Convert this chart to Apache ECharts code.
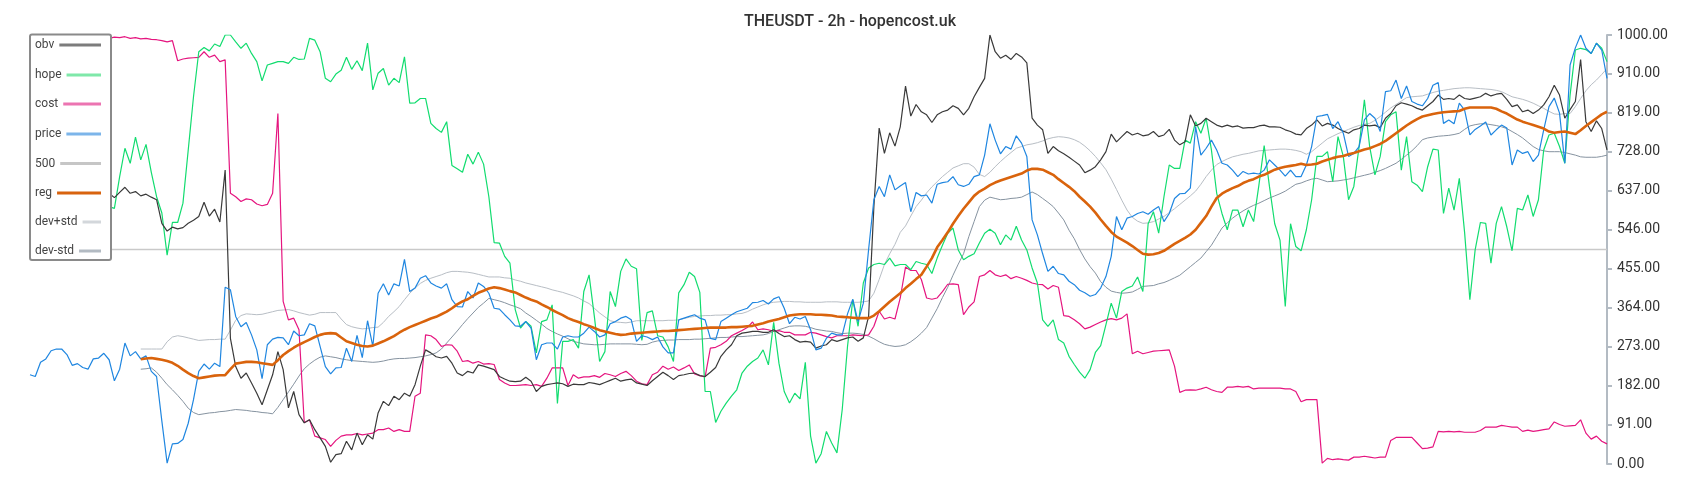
<!DOCTYPE html>
<html><head><meta charset="utf-8">
<script src="https://cdn.jsdelivr.net/npm/echarts@6/dist/echarts.min.js"></script>
<style>html,body{margin:0;padding:0;background:#fff}#c{width:1700px;height:500px}</style>
</head><body><div id="c"></div>
<script>
const chartTitle = 'THEUSDT - 2h - hopencost.uk';
const seriesNames = ['obv', 'hope', 'cost', 'price', '500', 'reg', 'dev+std', 'dev-std'];
const pointCount = 300;
const bandStart = 21;
const levelValue = 500;
const yTicks = { min: 0, max: 1000, step: 91 };

const obv = [
630,633,628,636,640,632,629,635,638,630,
627,634,631,628,633,631,621,633,645,631,
635,625,629,622,616,561,543,552,548,551,
561,568,577,610,578,594,564,685,293,227,
200,212,189,165,138,173,208,262,220,131,
169,115,96,103,80,61,41,4,22,24,
53,33,72,45,68,58,119,146,136,158,
150,165,158,185,228,266,259,250,247,251,
235,212,206,216,212,231,228,224,220,204,
198,193,192,193,202,193,169,181,185,187,
189,187,181,186,185,185,190,188,185,190,
195,200,193,196,198,189,186,183,194,204,
214,206,197,206,208,211,212,206,204,214,
225,251,266,278,299,305,307,309,309,307,
307,313,304,297,299,290,284,286,284,270,
275,278,290,286,290,294,296,286,294,344,
600,783,724,772,741,786,881,811,838,821,
814,796,814,821,825,835,829,814,829,856,
878,899,1000,961,946,953,943,957,949,935,
806,790,779,724,740,730,723,715,706,697,
679,685,693,709,728,769,751,763,775,767,
771,765,767,775,763,767,780,755,744,751,
814,788,794,806,798,790,786,790,786,788,
783,784,784,788,790,786,786,785,779,775,
769,767,782,790,802,788,794,790,782,776,
771,779,782,790,788,790,784,806,817,835,
842,839,835,829,825,835,845,860,850,852,
850,860,852,850,853,856,864,858,862,864,
850,833,837,821,825,817,825,837,856,883,
860,806,826,845,943,798,775,800,782,732
];

const hope = [
610,615,605,620,600,612,618,608,615,622,
610,605,615,625,630,600,596,670,736,701,
762,709,745,680,623,585,487,563,563,608,
732,856,961,971,963,979,973,1000,1000,984,
969,981,957,938,893,930,934,938,938,934,
948,943,944,992,988,961,899,891,909,918,
948,920,940,917,981,872,911,922,883,899,
889,949,841,842,852,852,794,782,773,798,
696,688,680,722,699,727,699,623,516,515,
484,468,360,317,332,321,259,332,336,371,
141,286,286,290,270,402,441,344,239,262,
402,367,449,478,461,455,288,353,357,299,
296,273,239,399,418,447,437,400,169,169,
97,123,142,158,173,212,228,239,247,266,
231,330,235,169,142,165,152,237,65,2,
24,76,49,26,127,274,383,321,422,457,
465,468,465,480,462,465,465,453,472,468,
465,444,480,510,538,550,499,476,484,490,
515,538,547,538,511,534,522,554,522,499,
457,422,336,321,336,290,282,251,232,214,
200,220,260,276,325,375,340,402,410,415,
436,402,560,588,538,623,697,689,689,755,
748,798,771,806,732,631,584,546,592,592,
553,592,565,650,742,647,560,522,367,560,
507,497,546,616,717,717,728,658,763,717,
616,647,740,849,740,674,717,798,814,821,
685,763,658,650,635,693,734,732,584,643,
592,666,540,383,499,563,561,468,561,600,
553,497,596,592,627,577,616,732,767,771,
740,701,860,965,969,966,957,981,969,938
];

const cost = [
998,997,996,998,995,996,994,996,995,993,
994,995,993,994,992,992,995,994,996,992,
994,991,992,990,989,987,984,987,940,944,
946,947,948,961,948,953,938,942,631,623,
612,618,616,606,602,605,631,817,379,336,
340,313,96,103,65,61,57,41,55,65,
68,68,71,68,70,72,80,80,84,76,
80,76,76,158,165,301,299,290,274,278,
277,263,239,241,235,239,233,234,232,197,
189,183,183,184,185,183,185,181,200,224,
224,224,183,208,200,203,203,206,202,211,
208,204,211,216,206,193,187,185,208,214,
228,221,226,218,224,231,210,206,203,270,
272,278,286,299,305,311,318,331,313,315,
313,309,311,307,307,301,301,301,307,305,
301,297,294,299,299,299,301,300,299,301,
321,356,338,342,338,387,459,451,451,430,
387,384,387,402,419,420,418,348,366,378,
437,441,451,441,437,441,432,437,433,428,
422,419,418,408,416,412,346,344,336,327,
315,319,325,331,336,339,336,340,350,257,
263,257,260,263,264,265,266,228,167,172,
173,172,175,179,173,169,167,179,179,181,
179,181,175,177,177,177,177,177,175,175,
169,145,150,150,150,2,13,10,12,10,
9,16,16,18,16,14,16,16,55,62,
62,62,62,49,36,37,40,76,75,76,
75,76,74,74,74,78,86,86,86,90,
88,86,86,76,79,76,78,80,82,98,
92,88,89,90,103,72,58,65,53,47
];

const price = [
208,204,237,245,264,268,268,255,230,234,
225,221,245,247,258,243,194,221,282,252,
262,245,252,216,204,100,2,47,48,57,
95,150,216,233,221,235,227,412,406,344,
320,330,301,266,199,278,291,295,294,278,
310,299,301,327,322,274,227,210,224,225,
270,239,300,248,334,274,398,420,394,420,
415,477,402,410,433,439,422,415,410,420,
383,367,366,402,387,422,414,398,363,361,
348,336,322,321,332,317,243,278,282,282,
268,296,299,296,296,305,319,309,296,301,
327,332,340,344,336,286,299,296,290,296,
273,259,259,336,340,344,348,340,336,293,
290,332,340,348,355,359,363,376,377,381,
373,385,390,363,327,342,338,344,313,266,
270,293,305,301,301,350,384,332,375,500,
616,647,623,674,639,648,656,588,633,625,
627,608,652,656,658,670,651,647,652,670,
674,720,793,755,723,740,734,765,748,717,
569,534,490,449,461,444,441,426,418,405,
399,391,395,410,437,484,577,546,573,577,
584,588,582,592,600,565,584,619,630,631,
643,786,720,736,755,732,701,697,685,670,
682,676,678,676,685,709,697,685,671,685,
670,670,697,740,810,812,815,782,798,771,
717,724,740,802,817,806,775,868,870,895,
852,881,845,839,835,852,883,889,794,802,
793,841,825,767,780,788,797,767,779,790,
783,697,732,724,728,705,720,779,833,853,
818,701,930,970,1000,969,957,981,965,899
];

// reg / bands start at index bandStart (21)
const reg = [
244,246,247,245,243,240,236,229,220,
212,205,200,202,204,206,207,207,221,234,
236,238,238,237,235,233,231,242,254,263,
271,278,284,290,296,301,304,305,304,295,
286,282,278,275,274,276,281,286,292,298,
306,313,319,324,329,334,339,343,349,355,
363,372,379,384,392,399,404,409,412,410,
407,403,400,394,388,383,379,372,366,359,
353,347,340,335,331,326,322,317,312,309,
306,303,301,302,304,305,306,307,308,309,
310,310,311,312,313,314,315,316,317,318,
318,318,318,319,319,320,321,322,325,328,
332,335,338,342,346,348,349,349,349,348,
348,347,346,344,343,342,341,340,340,340,
346,356,367,378,388,398,410,420,431,441,
460,480,505,522,540,560,578,595,610,625,
635,642,650,656,661,665,669,673,677,684,
688,688,686,680,674,664,655,646,636,623,
612,600,586,570,555,541,530,523,516,508,
499,490,488,489,492,497,505,513,520,527,
535,546,562,578,600,620,630,637,643,648,
655,660,664,670,674,680,686,690,693,695,
697,700,697,698,700,705,709,713,716,718,
722,725,729,733,736,741,746,753,762,771,
780,789,797,804,810,813,816,818,820,821,
822,823,828,831,831,831,831,831,828,822,
817,810,803,798,794,790,786,782,775,772,
774,775,772,769,778,788,797,806,815,821
];

const devPlus = [
268,268,268,268,268,285,296,299,297,
294,291,288,289,290,290,291,291,312,335,
346,350,349,348,349,352,355,358,359,360,
357,353,350,347,349,353,353,353,353,338,
325,320,317,315,316,318,319,330,344,355,
367,383,398,410,421,428,433,437,441,446,
449,449,448,447,445,442,439,436,436,436,
434,433,429,426,422,419,416,413,410,406,
403,400,396,392,387,380,374,363,352,343,
334,331,330,329,331,334,334,334,334,334,
334,335,335,336,339,342,344,345,346,346,
347,347,348,348,350,351,355,361,366,371,
375,377,378,379,379,378,378,377,377,377,
377,378,378,378,377,377,377,377,378,380,
398,430,465,490,512,540,555,578,600,615,
632,646,658,670,680,690,695,700,700,692,
675,670,680,693,705,716,726,736,740,744,
746,749,753,758,761,763,762,760,756,750,
741,730,717,702,686,664,640,615,592,575,
566,561,562,565,571,577,586,595,605,615,
625,636,652,670,685,698,705,711,716,719,
722,724,727,730,731,732,733,734,734,733,
731,728,722,728,738,748,758,764,770,775,
780,785,789,792,794,801,810,820,830,838,
846,854,856,857,858,862,866,869,871,873,
875,876,877,877,876,875,874,873,871,868,
862,856,853,850,846,841,835,829,822,816,
815,817,817,833,852,870,884,895,908,922
];

const devMinus = [
221,222,224,214,200,185,173,160,146,
130,120,115,117,119,120,122,123,125,127,
126,125,123,122,120,119,117,132,150,168,
186,205,222,233,242,249,252,250,248,245,
243,241,240,239,238,237,238,240,243,245,
246,246,247,248,250,252,255,259,268,282,
296,310,325,339,352,365,375,386,383,380,
376,371,367,362,352,344,335,326,316,309,
303,298,292,286,283,280,279,278,278,279,
280,280,280,280,280,279,278,279,284,287,
288,289,289,290,290,290,291,291,292,293,
294,295,295,296,297,297,298,299,300,301,
304,309,313,317,321,322,322,321,318,314,
312,310,309,306,304,305,305,304,302,298,
292,285,279,276,274,275,278,285,294,305,
318,340,362,388,412,440,466,490,530,565,
600,615,622,619,616,617,619,620,622,628,
634,628,619,610,600,585,569,545,525,500,
478,460,445,425,412,403,400,398,399,401,
407,414,415,416,420,423,428,434,440,450,
460,470,480,495,510,530,550,562,573,582,
590,597,603,608,614,620,625,630,636,644,
652,655,660,664,666,662,658,659,660,662,
664,667,670,673,676,680,684,689,695,701,
710,720,730,742,756,760,762,764,765,766,
768,771,780,788,791,793,793,791,789,786,
782,775,768,760,750,740,733,730,728,728,
728,726,723,720,716,715,715,715,717,720
];

const categories = Array.from({ length: pointCount }, (_, i) => String(i));
const padBand = arr => new Array(bandStart).fill(null).concat(arr);

const lineColors = {
  'obv': '#3a3a3a', 'hope': '#12dc6f', 'cost': '#e5157f', 'price': '#1f86e0',
  '500': '#c9c9c9', 'reg': '#d9630c', 'dev+std': '#b8bec5', 'dev-std': '#8693a0'
};
const legendColors = {
  'obv': '#7c7c7c', 'hope': '#7fe8a9', 'cost': '#ec74b1', 'price': '#7cb5ea',
  '500': '#c6c6c6', 'reg': '#d8630e', 'dev+std': '#d3d7db', 'dev-std': '#b2bac2'
};
const lineWidths = { 'obv': 1.2, 'hope': 1.2, 'cost': 1.2, 'price': 1.2, '500': 1.6, 'reg': 2.6, 'dev+std': 1, 'dev-std': 1 };
const seriesData = {
  'obv': obv, 'hope': hope, 'cost': cost, 'price': price,
  '500': categories.map(() => levelValue),
  'reg': padBand(reg), 'dev+std': padBand(devPlus), 'dev-std': padBand(devMinus)
};
const drawOrder = ['500', 'dev+std', 'dev-std', 'cost', 'hope', 'obv', 'price', 'reg'];

// legend layout
const legendTextLeft = 35, legendIconRight = 101;
const legendCenters = [45, 75, 104, 134, 163.5, 193, 222, 251];
const legendFont = '12px Roboto';
const ctx = document.createElement('canvas').getContext('2d');
ctx.font = legendFont;
const legends = seriesNames.map((n, k) => {
  const w = ctx.measureText(n).width;
  return {
    orient: 'vertical', left: legendTextLeft, top: legendCenters[k] - 7,
    itemWidth: Math.max(10, legendIconRight - legendTextLeft - w - 5), itemHeight: 3,
    align: 'right', padding: 0, selectedMode: false, z: 10,
    textStyle: { color: '#444', fontSize: 12, fontFamily: 'Roboto', lineHeight: 14 },
    data: [{ name: n, icon: 'rect', itemStyle: { color: legendColors[n], borderWidth: 0 } }]
  };
});

const chart = echarts.init(document.getElementById('c'), null, { renderer: 'canvas' });
chart.setOption({
  animation: false,
  backgroundColor: '#fff',
  title: { text: chartTitle, left: 'center', top: 9,
    textStyle: { fontSize: 16, fontWeight: 500, color: '#333', fontFamily: 'Roboto' } },
  legend: legends,
  graphic: [{ type: 'rect', z: 5, shape: { x: 30, y: 34.5, width: 81, height: 225.5, r: 2 },
    style: { fill: '#fff', stroke: '#8a8a8a', lineWidth: 2 } }],
  grid: { left: 30, right: 93, top: 35, bottom: 36 },
  xAxis: { type: 'category', data: categories, boundaryGap: false, show: false },
  yAxis: {
    type: 'value', position: 'right', min: yTicks.min, max: yTicks.max, interval: yTicks.step,
    axisLine: { show: true, lineStyle: { color: '#b3bbc3', width: 2 } },
    axisTick: { show: true, length: 5, lineStyle: { color: '#b3bbc3', width: 2 } },
    splitLine: { show: false },
    axisLabel: { color: '#333', fontSize: 14, fontFamily: 'Roboto', margin: 10, formatter: v => v.toFixed(2) }
  },
  series: drawOrder.map(n => ({
    name: n, type: 'line', data: seriesData[n], symbol: 'none', showSymbol: false,
    connectNulls: false, silent: true,
    lineStyle: { color: lineColors[n], width: lineWidths[n] },
    itemStyle: { color: lineColors[n] }
  }))
});
</script>
</body></html>
